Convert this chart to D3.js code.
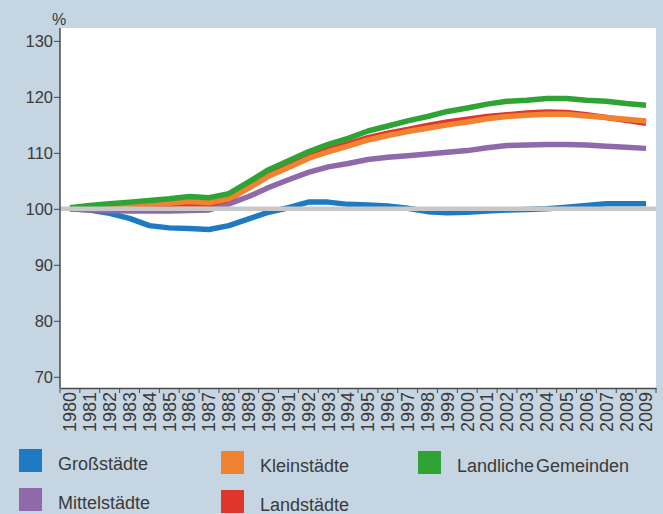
<!DOCTYPE html>
<html>
<head>
<meta charset="utf-8">
<script src="https://cdn.jsdelivr.net/npm/d3@7"></script>
<style>
  body { margin: 0; background: #c5d5e2; }
  svg { display: block; font-family: "Liberation Sans", Arial, sans-serif; }
  .axis path, .axis line { stroke: #4a4a4a; }
  .axis text { fill: #3a3a3a; }
</style>
</head>
<body>
<div id="chart"></div>
<script>
// Data
const years = d3.range(1980, 2010);
const yTicks = [70, 80, 90, 100, 110, 120, 130];

const grossstaedte = [100, 99.8, 99.2, 98.3, 97.0, 96.6, 96.5, 96.3, 97.0, 98.2,
    99.4, 100.2, 101.2, 101.2, 100.8, 100.7, 100.5, 100.1, 99.5, 99.3,
    99.4, 99.6, 99.8, 99.9, 100.0, 100.3, 100.6, 100.9, 100.9, 100.9];
const mittelstaedte = [100, 99.8, 99.7, 99.6, 99.6, 99.6, 99.7, 99.8, 100.9, 102.2,
    103.8, 105.2, 106.5, 107.5, 108.1, 108.8, 109.2, 109.5, 109.8, 110.1,
    110.4, 110.9, 111.3, 111.4, 111.5, 111.5, 111.4, 111.2, 111.0, 110.8];
const landstaedte = [100, 100.3, 100.5, 100.6, 100.7, 100.8, 100.9, 100.8, 101.7, 103.8,
    106.0, 107.7, 109.3, 110.6, 111.6, 112.7, 113.5, 114.2, 114.9, 115.5,
    116.0, 116.5, 116.8, 117.1, 117.3, 117.2, 116.8, 116.3, 115.8, 115.3];
const kleinstaedte = [100, 100.4, 100.6, 100.8, 100.9, 101.0, 101.3, 101.1, 101.8, 103.7,
    105.8, 107.4, 109.0, 110.2, 111.2, 112.3, 113.1, 113.8, 114.4, 115.0,
    115.5, 116.1, 116.5, 116.7, 116.9, 116.9, 116.6, 116.3, 116.0, 115.7];
const laendlich = [100.2, 100.6, 100.9, 101.2, 101.5, 101.8, 102.2, 102.0, 102.7, 104.8,
    107.0, 108.6, 110.2, 111.5, 112.6, 113.9, 114.8, 115.7, 116.5, 117.4,
    118.0, 118.7, 119.2, 119.4, 119.7, 119.7, 119.4, 119.2, 118.8, 118.5];

// drawing order: bottom first
const series = [
    { name: 'Großstädte', color: '#1f7bc1', values: grossstaedte },
    { name: 'Mittelstädte', color: '#8f6aaa', values: mittelstaedte },
    { name: 'Landstädte', color: '#e0352b', values: landstaedte },
    { name: 'Kleinstädte', color: '#ef8332', values: kleinstaedte },
    { name: 'Landliche Gemeinden', color: '#2fa334', values: laendlich }
];
const legendOrder = ['Großstädte', 'Kleinstädte', 'Landliche Gemeinden', 'Mittelstädte', 'Landstädte'];

const width = 663, height = 514;
const plot = { left: 60, right: 656, top: 28, bottom: 388 };

const svg = d3.select('#chart')
    .append('svg')
    .attr('width', width)
    .attr('height', height);

svg.append('rect')
    .attr('x', plot.left)
    .attr('y', plot.top)
    .attr('width', plot.right - plot.left)
    .attr('height', plot.bottom - plot.top)
    .attr('fill', '#fff');

const x = d3.scaleBand()
    .domain(years)
    .range([plot.left, plot.right]);

const y = d3.scaleLinear()
    .domain([68, 132.3])
    .range([plot.bottom, plot.top]);

// Lines
const line = d3.line()
    .x((d, i) => x(years[i]) + x.bandwidth() / 2)
    .y(d => y(d));

svg.selectAll('.series')
    .data(series)
    .enter()
    .append('path')
    .attr('class', 'series')
    .attr('d', d => line(d.values))
    .attr('fill', 'none')
    .attr('stroke', d => d.color)
    .attr('stroke-width', 5.5)
    .attr('stroke-linejoin', 'round');

// 100% reference line
svg.append('line')
    .attr('x1', plot.left)
    .attr('x2', plot.right)
    .attr('y1', y(100))
    .attr('y2', y(100))
    .attr('stroke', '#c8c8c8')
    .attr('stroke-width', 4.5);

// Y axis
const yAxis = svg.append('g')
    .attr('class', 'axis')
    .attr('transform', `translate(${plot.left},0)`)
    .call(d3.axisLeft(y).tickValues(yTicks).tickSize(6).tickPadding(1).tickSizeOuter(0));
yAxis.select('.domain').attr('d', `M0,${plot.top}V${plot.bottom}`).attr('stroke-width', 1.5);
yAxis.selectAll('text').style('font-size', '16.5px');

svg.append('text')
    .attr('x', 59)
    .attr('y', 25)
    .attr('text-anchor', 'middle')
    .attr('fill', '#3a3a3a')
    .style('font-size', '16px')
    .text('%');

// X axis
const xAxis = svg.append('g')
    .attr('class', 'axis')
    .attr('transform', `translate(0,${plot.bottom})`)
    .call(d3.axisBottom(x).tickSize(0).tickSizeOuter(0));
xAxis.select('.domain').attr('stroke-width', 1.5);
xAxis.selectAll('text')
    .style('font-size', '18px')
    .attr('text-anchor', 'end')
    .attr('transform', 'rotate(-90)')
    .attr('x', -4)
    .attr('y', 0)
    .attr('dy', '0.35em');

// tick marks sit between the years
xAxis.selectAll('.band-tick')
    .data(years.concat([null]))
    .enter()
    .append('line')
    .attr('class', 'band-tick')
    .attr('x1', (d, i) => plot.left + i * x.step())
    .attr('x2', (d, i) => plot.left + i * x.step())
    .attr('y1', 0)
    .attr('y2', 5)
    .attr('stroke', '#4a4a4a');

// Legend
const legendCols = [19, 221, 418];
const legendRows = [449, 488];
const legend = svg.selectAll('.legend')
    .data(legendOrder.map(n => series.find(s => s.name === n)))
    .enter()
    .append('g')
    .attr('class', 'legend')
    .attr('transform', (d, i) => {
        const col = i % 3, row = Math.floor(i / 3);
        return `translate(${legendCols[col]},${legendRows[row] + (col > 0 ? 2 : 0)})`;
    });

legend.append('rect')
    .attr('width', 23)
    .attr('height', 23)
    .attr('fill', d => d.color);

legend.append('text')
    .attr('x', 39)
    .attr('y', 21)
    .attr('fill', '#3a3a3a')
    .style('font-size', '18px')
    .style('word-spacing', '-3px')
    .text(d => d.name);
</script>
</body>
</html>
